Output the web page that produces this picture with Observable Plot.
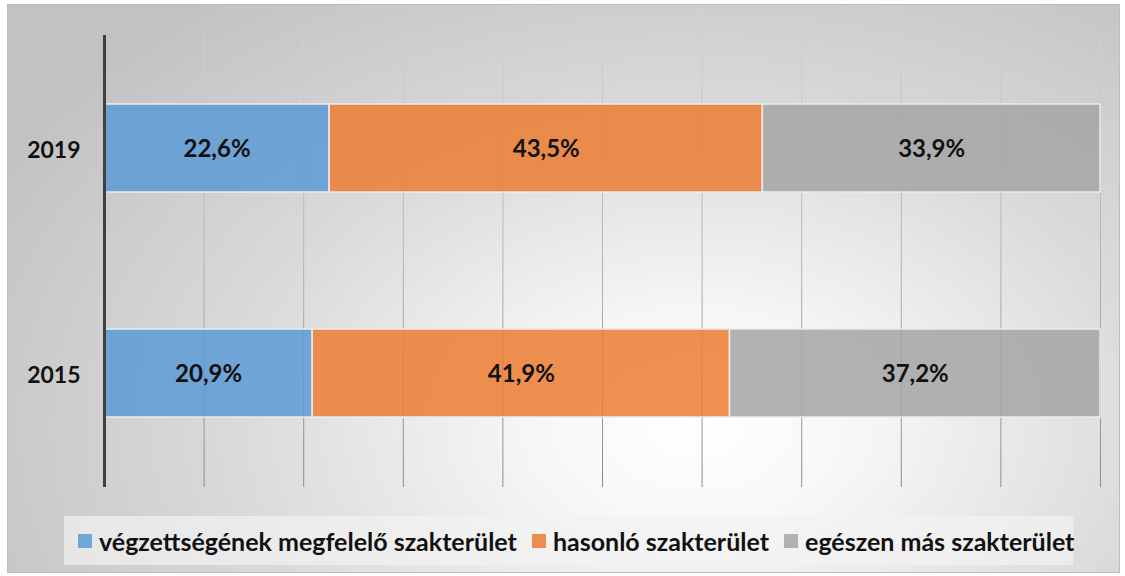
<!DOCTYPE html>
<html>
<head>
<meta charset="utf-8">
<script src="https://cdn.jsdelivr.net/npm/d3@7"></script>
<script src="https://cdn.jsdelivr.net/npm/@observablehq/plot@0.6"></script>
<style>
  html, body { margin: 0; padding: 0; background: #ffffff; width: 1125px; height: 576px; overflow: hidden; }
  #frame {
    position: absolute; left: 7px; top: 4px; width: 1111px; height: 567px;
    border: 1px solid #bdbdbd;
    background: radial-gradient(ellipse 72% 95% at 62% 74%, #ffffff 0%, #f7f7f7 20%, #dadada 58%, #c2c2c2 100%);
    font-family: Lato, "Open Sans", sans-serif;
  }
  #chart { position: absolute; left: 0; top: 0; }
  #legend {
    position: absolute; left: 56px; top: 511px; width: 1009px; height: 49px;
    background: rgba(242,242,242,0.7);
    display: flex; align-items: center; padding-left: 14px; box-sizing: border-box;
    font-weight: bold; font-size: 25px; color: #111;
  }
  .item { display: flex; align-items: center; margin-right: 15px; white-space: nowrap; }
  .sw { width: 14px; height: 14px; margin-right: 7px; }
</style>
</head>
<body>
<div id="frame">
  <div id="chart"></div>
  <div id="legend"></div>
</div>
<script>
const years = ["2019", "2015"];
const categories = ["végzettségének megfelelő szakterület", "hasonló szakterület", "egészen más szakterület"];
const values2019 = [22.6, 43.5, 33.9];
const values2015 = [20.9, 41.9, 37.2];
const colors = ["#5b9bd5", "#ed7d31", "#a5a5a5"];
const gridTicks = [10, 20, 30, 40, 50, 60, 70, 80, 90, 100];

const seriesByYear = { "2019": values2019, "2015": values2015 };
const data = [];
for (const y of years) {
  categories.forEach((c, i) => data.push({ year: y, cat: c, value: seriesByYear[y][i] }));
}
const fmt = v => v.toFixed(1).replace(".", ",") + "%";

const plot = Plot.plot({
  width: 1111,
  height: 505,
  marginLeft: 96,
  marginRight: 19,
  marginTop: 30,
  marginBottom: 23,
  style: { background: "transparent", fontFamily: "Lato, 'Open Sans', sans-serif" },
  x: { domain: [0, 100], axis: null },
  y: { domain: years, paddingInner: 0.607, paddingOuter: 0.304, label: null },
  color: { domain: categories, range: colors },
  marks: [
    Plot.ruleX(gridTicks, { x: d => d, stroke: "url(#gridGrad)", strokeWidth: 1 }),
    Plot.barX(data, Plot.stackX({ x: "value", y: "year", fill: "cat", fillOpacity: 0.85, stroke: "#ececec", strokeWidth: 1.5 })),
    Plot.text(data, Plot.stackX({ x: "value", y: "year", z: "cat", text: d => fmt(d.value), fontSize: 24, fontWeight: "bold", fill: "#111", dy: 1 })),
    Plot.ruleX([0], { stroke: "#404040", strokeWidth: 3 }),
    Plot.axisY({ tickSize: 0, tickPadding: 24, fontSize: 23, fontWeight: "bold", color: "#111", dy: 2 })
  ]
});

const defs = d3.select(plot).insert("defs", ":first-child");
const g = defs.append("linearGradient").attr("id", "gridGrad")
  .attr("gradientUnits", "userSpaceOnUse").attr("x1", 0).attr("x2", 0).attr("y1", 30).attr("y2", 482);
g.append("stop").attr("offset", "0%").attr("stop-color", "#d0d0d0");
g.append("stop").attr("offset", "50%").attr("stop-color", "#b4b4b4");
g.append("stop").attr("offset", "100%").attr("stop-color", "#8c8c8c");

document.getElementById("chart").appendChild(plot);

const legend = document.getElementById("legend");
categories.forEach((c, i) => {
  const it = document.createElement("div");
  it.className = "item";
  const sw = document.createElement("div");
  sw.className = "sw";
  sw.style.background = colors[i];
  sw.style.opacity = 0.85;
  const t = document.createElement("span");
  t.textContent = c;
  it.appendChild(sw);
  it.appendChild(t);
  legend.appendChild(it);
});
</script>
</body>
</html>
